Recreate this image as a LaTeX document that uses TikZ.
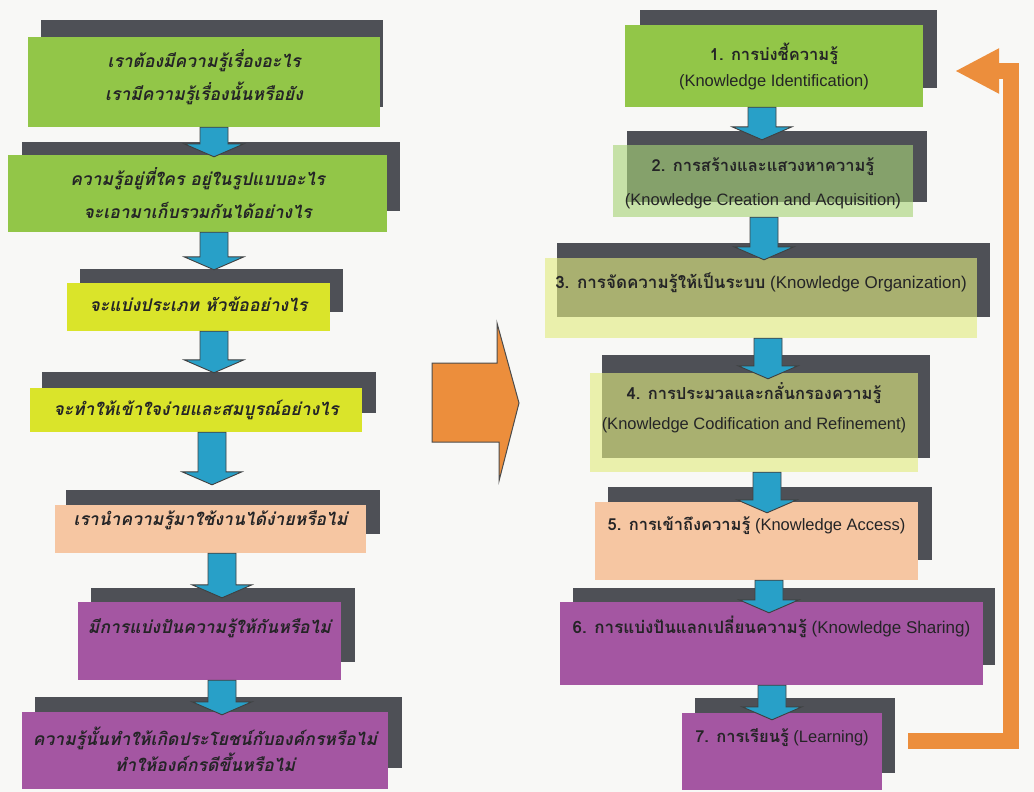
\documentclass[tikz,border=0pt]{standalone}
\usepackage{fontspec}
\setmainfont{Liberation Sans}
\newfontfamily\thai[Script=Thai]{Loma}
\usetikzlibrary{arrows.meta,calc}
\definecolor{bgc}{RGB}{248,248,246}
\definecolor{shadowc}{RGB}{78,80,86}
\definecolor{greenL}{RGB}{146,198,72}
\definecolor{greenR}{RGB}{168,212,120}
\definecolor{yellowL}{RGB}{218,228,42}
\definecolor{yellowR}{RGB}{226,236,128}
\definecolor{peach}{RGB}{246,198,162}
\definecolor{purp}{RGB}{164,86,162}
\definecolor{bluearr}{RGB}{40,160,200}
\definecolor{orangec}{RGB}{236,142,60}
\definecolor{txtc}{RGB}{36,36,38}
\newcommand\flow[4]{%
  \filldraw[flowarrow] let \p1=(#1,0 |- #2.south), \p2=(#1,0 |- #3.north) in
  (\x1-14pt,\y1) -- (\x1+14pt,\y1) -- (\x1+14pt,{\y2+(#4)*1pt+13pt}) -- (\x1+30pt,{\y2+(#4)*1pt+13pt})
  -- (\x1,{\y2+(#4)*1pt}) -- (\x1-30pt,{\y2+(#4)*1pt+13pt}) -- (\x1-14pt,{\y2+(#4)*1pt+13pt}) -- cycle;}
\begin{document}
\begin{tikzpicture}[x=1pt,y=-1pt,
  box/.style 2 args={inner sep=0pt, align=center, text=txtc, minimum width=#1, minimum height=#2},
  lt/.style={font={\fontsize{17.5}{#1}\thai\bfseries\itshape}},
  lt/.default=33,
  rt/.style={font={\fontsize{16.5}{#1}\selectfont}},
  rtb/.style={font={\fontsize{17}{#1}\selectfont}},
  up/.style={text height=0pt, text depth=#1},
  down/.style={text depth=0pt, text height=#1},
  flowarrow/.style={fill=bluearr, draw=black!75, line width=0.9pt, line join=miter},
  semi/.style={fill opacity=0.62, text opacity=1}]
\useasboundingbox (0,0) rectangle (1034,792);
\fill[bgc] (0,0) rectangle (1034,792);
% ---------- left column ----------
\fill[shadowc] (41,20) rectangle (383,107);
\node[box={352pt}{90pt}, lt, fill=greenL, down=36pt] (L1) at (204,82) {เราต้องมีความรู้เรื่องอะไร\\เรามีความรู้เรื่องนั้นหรือยัง};
\fill[shadowc] (22,142) rectangle (400,211);
\node[box={379pt}{77pt}, lt, fill=greenL, down=49pt] (L2) at (197.5,193.5) {ความรู้อยู่ที่ใคร อยู่ในรูปแบบอะไร\\จะเอามาเก็บรวมกันได้อย่างไร};
\fill[shadowc] (80,269) rectangle (343,312);
\node[box={263pt}{48pt}, lt, fill=yellowL, down=8pt] (L3) at (198.5,307) {จะแบ่งประเภท หัวข้ออย่างไร};
\fill[shadowc] (42,372) rectangle (376,413);
\node[box={332pt}{44pt}, lt, fill=yellowL, down=10pt] (L4) at (196,410) {จะทำให้เข้าใจง่ายและสมบูรณ์อย่างไร};
\fill[shadowc] (66,490) rectangle (380,534);
\node[box={311pt}{48pt}, lt, fill=peach, up=8pt] (L5) at (210.5,529) {เรานำความรู้มาใช้งานได้ง่ายหรือไม่};
\fill[shadowc] (91,588) rectangle (355,662);
\node[box={263pt}{78pt}, lt, fill=purp, up=16pt] (L6) at (209.5,641) {มีการแบ่งปันความรู้ให้กันหรือไม่};
\fill[shadowc] (35,697) rectangle (402,768);
\node[box={366pt}{77pt}, lt=26, fill=purp, down=41pt] (L7) at (205,750.5) {ความรู้นั้นทำให้เกิดประโยชน์กับองค์กรหรือไม่\\ทำให้องค์กรดีขึ้นหรือไม่};
% ---------- right column ----------
\fill[shadowc] (640,10) rectangle (937,88);
\node[box={298pt}{82pt}, rt=25, fill=greenL, down=40pt] (R1) at (774,66) {{\thai\bfseries 1. การบ่งชี้ความรู้}\\(Knowledge Identification)};
\fill[shadowc] (627,131) rectangle (927,202);
\node[box={300pt}{72pt}, rt=34, semi, fill=greenR, down=48pt] (R2) at (763,181) {{\thai\bfseries 2. การสร้างและแสวงหาความรู้}\\(Knowledge Creation and Acquisition)};
\fill[shadowc] (557,243) rectangle (990,317);
\node[box={432pt}{80pt}, rtb=20, semi, fill=yellowR, up=20pt] (R3) at (761,298) {{\thai\bfseries 3. การจัดความรู้ให้เป็นระบบ} (Knowledge Organization)};
\fill[shadowc] (602,355) rectangle (930,458);
\node[box={328pt}{99pt}, rt=30, semi, fill=yellowR, down=13pt] (R4) at (754,422.5) {{\thai\bfseries 4. การประมวลและกลั่นกรองความรู้}\\(Knowledge Codification and Refinement)};
\fill[shadowc] (608,487) rectangle (932,560);
\node[box={323pt}{78pt}, rt=20, fill=peach, up=22pt] (R5) at (756.5,541) {{\thai\bfseries 5. การเข้าถึงความรู้} (Knowledge Access)};
\fill[shadowc] (573,588) rectangle (995,665);
\node[box={423pt}{83pt}, rtb=20, fill=purp, up=21pt] (R6) at (771.5,643.5) {{\thai\bfseries 6. การแบ่งปันแลกเปลี่ยนความรู้} (Knowledge Sharing)};
\fill[shadowc] (695,698) rectangle (895,773);
\node[box={200pt}{77pt}, rt=20, fill=purp, up=19pt] (R7) at (782,751.5) {{\thai\bfseries 7. การเรียนรู้} (Learning)};
% ---------- blue flow arrows ----------
\flow{214}{L1}{L2}{-2}
\flow{214}{L2}{L3}{13}
\flow{214}{L3}{L4}{15}
\flow{212}{L4}{L5}{20}
\flow{222}{L5}{L6}{4}
\flow{222}{L6}{L7}{-3}
\flow{762}{R1}{R2}{5}
\flow{764}{R2}{R3}{-2}
\flow{768}{R3}{R4}{-6}
\flow{767}{R4}{R5}{-11}
\flow{769}{R5}{R6}{-11}
\flow{772}{R6}{R7}{-7}
% ---------- middle block arrow ----------
\filldraw[fill=orangec, draw=black!70, line width=1pt, line join=miter]
  (432,363) -- (497,363) -- (497,323) -- (519,403) -- (499,481) -- (499,442) -- (432,442) -- cycle;
% ---------- feedback arrow ----------
\coordinate (fbs) at (908,741);
\coordinate (fbc) at (1011,71);
\coordinate (fbe) at (955,71);
\draw[orangec, line width=16pt, line join=miter, -{Triangle[length=44pt,width=42pt]}]
  (fbs) -| (fbc) -- (fbe);
\end{tikzpicture}
\end{document}
